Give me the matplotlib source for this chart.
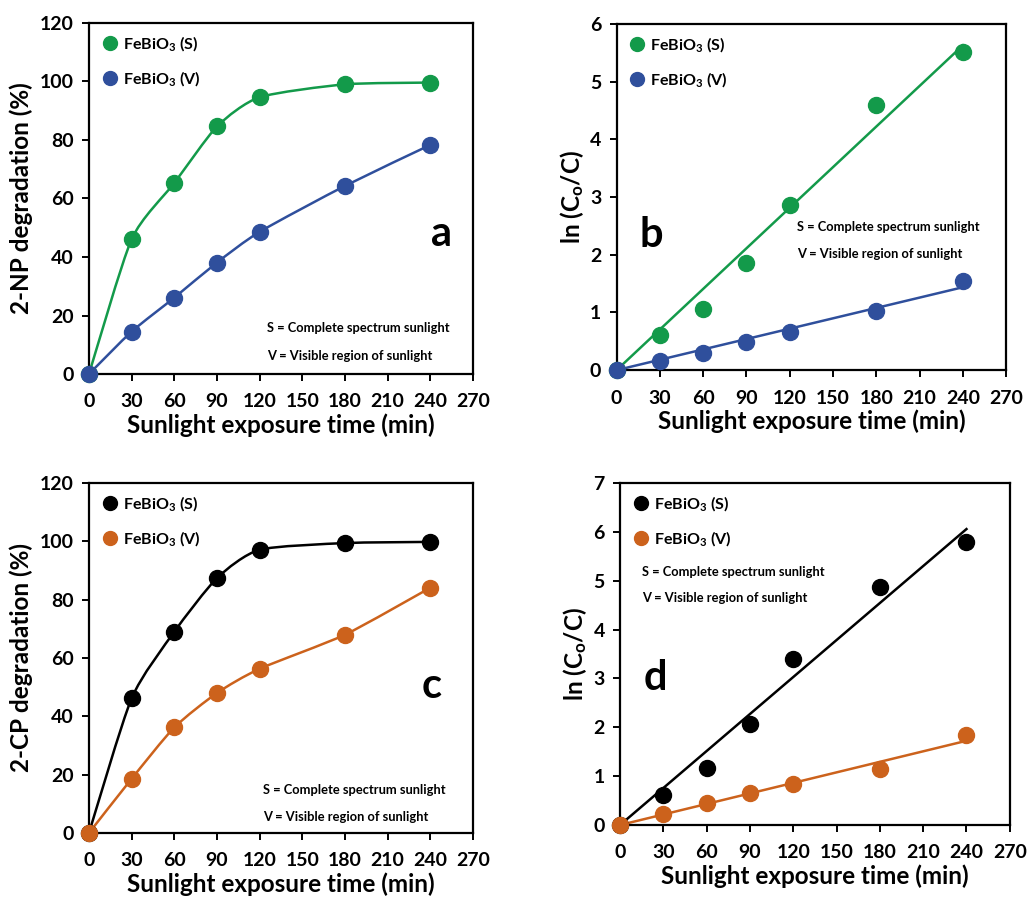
import numpy as np
import matplotlib
matplotlib.use("Agg")
import matplotlib.pyplot as plt
from matplotlib.path import Path
from matplotlib.patches import PathPatch
from matplotlib.lines import Line2D

plt.rcParams["font.family"] = ["Lato", "DejaVu Sans"]
plt.rcParams["font.weight"] = "bold"
plt.rcParams["mathtext.fontset"] = "custom"
plt.rcParams["mathtext.rm"] = "Lato:bold"
plt.rcParams["mathtext.it"] = "Lato:bold"
plt.rcParams["mathtext.bf"] = "Lato:bold"

# exposure time (min)
time = [0, 30, 60, 90, 120, 180, 240]

# panel a: 2-NP degradation (%)
np_deg_s = [0, 46.1, 65.3, 84.6, 94.6, 99.0, 99.6]
np_deg_v = [0, 14.5, 26.1, 38.1, 48.6, 64.3, 78.3]
# panel b: ln(C0/C) for 2-NP
np_ln_s = [0, 0.61, 1.06, 1.86, 2.87, 4.60, 5.52]
np_ln_v = [0, 0.15, 0.30, 0.48, 0.67, 1.03, 1.54]
# panel c: 2-CP degradation (%)
cp_deg_s = [0, 46.2, 69.0, 87.4, 97.1, 99.4, 99.8]
cp_deg_v = [0, 18.6, 36.2, 48.0, 56.3, 68.0, 84.1]
# panel d: ln(C0/C) for 2-CP
cp_ln_s = [0, 0.62, 1.16, 2.06, 3.40, 4.88, 5.80]
cp_ln_v = [0, 0.22, 0.46, 0.66, 0.83, 1.14, 1.84]

GREEN = "#139a4a"
BLUE = "#2f4f9c"
BLACK = "#000000"
ORANGE = "#cc621c"

label_s = r"FeBiO$_{3}$ (S)"
label_v = r"FeBiO$_{3}$ (V)"
note_s = "S = Complete spectrum sunlight"
note_v = "V = Visible region of sunlight"


def smooth_line(ax, x, y, color, tension=1 / 9.0):
    # excel-style smoothed line: cubic bezier through the points
    x = np.asarray(x, float)
    y = np.asarray(y, float)
    pts = np.column_stack([x, y])
    n = len(pts)
    verts = [pts[0]]
    codes = [Path.MOVETO]
    for i in range(n - 1):
        p0 = pts[i - 1] if i > 0 else pts[i]
        p1 = pts[i]
        p2 = pts[i + 1]
        p3 = pts[i + 2] if i + 2 < n else pts[i + 1]
        c1 = p1 + (p2 - p0) * tension
        c2 = p2 - (p3 - p1) * tension
        verts += [c1, c2, p2]
        codes += [Path.CURVE4] * 3
    patch = PathPatch(Path(verts, codes), fill=False, edgecolor=color,
                      lw=1.8, transform=ax.transData, zorder=2)
    ax.add_patch(patch)


def fit_line(ax, x, y, color):
    # linear trend line forced through the origin
    x = np.asarray(x, float)
    y = np.asarray(y, float)
    k = np.sum(x * y) / np.sum(x * x)
    xs = np.array([x.min(), x.max()])
    ax.plot(xs, k * xs, color=color, lw=1.8, zorder=2)


def style_axes(ax, ymax, ystep, ylabel, ypad):
    ax.set_xlim(0, 270)
    ax.set_ylim(0, ymax)
    ax.set_xticks(np.arange(0, 271, 30))
    ax.set_yticks(np.arange(0, ymax + 0.01, ystep))
    for s in ax.spines.values():
        s.set_linewidth(1.6)
    ax.tick_params(axis="both", direction="out", length=5, width=1.4,
                   labelsize=14, pad=6)
    ax.tick_params(axis="x", pad=9)
    ax.set_xlabel("Sunlight exposure time (min)", fontsize=17.5, fontweight="bold", labelpad=2)
    ax.set_ylabel(ylabel, fontsize=17.5, fontweight="bold", labelpad=ypad)
    for lab in ax.get_xticklabels() + ax.get_yticklabels():
        lab.set_fontweight("bold")


def add_legend(ax, c_s, c_v):
    handles = [Line2D([], [], ls="none", marker="o", ms=10, color=c_s),
               Line2D([], [], ls="none", marker="o", ms=10, color=c_v)]
    ax.legend(handles, [label_s, label_v], loc="upper left", frameon=False,
              fontsize=11.5, handletextpad=0.2, labelspacing=1.0,
              borderaxespad=0.3, handlelength=1.2)


def draw_points(ax, x, y, color):
    ax.plot(x, y, ls="none", marker="o", ms=11.5, color=color, zorder=3, clip_on=False)


def add_notes(ax, x0, y1, y2):
    ax.text(x0, y1, note_s, transform=ax.transAxes, fontsize=9.3, va="center")
    ax.text(x0, y2, note_v, transform=ax.transAxes, fontsize=9.3, va="center")


fig = plt.figure(figsize=(10.31, 9.05), dpi=100)
ax_a = fig.add_axes([0.0863, 0.5867, 0.3725, 0.388])
ax_b = fig.add_axes([0.598, 0.591, 0.378, 0.3823])
ax_c = fig.add_axes([0.0863, 0.0796, 0.3725, 0.3867])
ax_d = fig.add_axes([0.6014, 0.0884, 0.378, 0.378])

# panel a
smooth_line(ax_a, time, np_deg_s, GREEN)
smooth_line(ax_a, time, np_deg_v, BLUE)
draw_points(ax_a, time, np_deg_s, GREEN)
draw_points(ax_a, time, np_deg_v, BLUE)
style_axes(ax_a, 120, 20, "2-NP degradation (%)", 5)
add_legend(ax_a, GREEN, BLUE)
ax_a.text(0.917, 0.40, "a", transform=ax_a.transAxes, fontsize=30, ha="center", va="center")
add_notes(ax_a, 0.464, 0.131, 0.051)

# panel b
fit_line(ax_b, time, np_ln_s, GREEN)
fit_line(ax_b, time, np_ln_v, BLUE)
draw_points(ax_b, time, np_ln_s, GREEN)
draw_points(ax_b, time, np_ln_v, BLUE)
style_axes(ax_b, 6, 1, r"ln (C$_{o}$/C)", 3)
add_legend(ax_b, GREEN, BLUE)
ax_b.text(0.09, 0.39, "b", transform=ax_b.transAxes, fontsize=30, ha="center", va="center")
add_notes(ax_b, 0.462, 0.413, 0.335)

# panel c
smooth_line(ax_c, time, cp_deg_s, BLACK)
smooth_line(ax_c, time, cp_deg_v, ORANGE)
draw_points(ax_c, time, cp_deg_s, BLACK)
draw_points(ax_c, time, cp_deg_v, ORANGE)
style_axes(ax_c, 120, 20, "2-CP degradation (%)", 5)
add_legend(ax_c, BLACK, ORANGE)
ax_c.text(0.893, 0.42, "c", transform=ax_c.transAxes, fontsize=30, ha="center", va="center")
add_notes(ax_c, 0.453, 0.123, 0.046)

# panel d
fit_line(ax_d, time, cp_ln_s, BLACK)
fit_line(ax_d, time, cp_ln_v, ORANGE)
draw_points(ax_d, time, cp_ln_s, BLACK)
draw_points(ax_d, time, cp_ln_v, ORANGE)
style_axes(ax_d, 7, 1, r"ln (C$_{o}$/C)", 3)
add_legend(ax_d, BLACK, ORANGE)
ax_d.text(0.09, 0.43, "d", transform=ax_d.transAxes, fontsize=30, ha="center", va="center")
add_notes(ax_d, 0.056, 0.74, 0.664)

fig.savefig("out.png", dpi=100)
